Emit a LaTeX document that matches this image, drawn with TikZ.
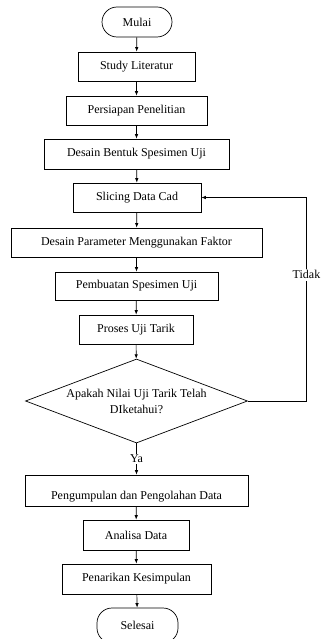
\documentclass[tikz,border=0pt]{standalone}
\usepackage{fontspec}
\setmainfont{Liberation Serif}
\usetikzlibrary{arrows.meta,shapes.geometric}

\begin{document}
\begin{tikzpicture}[x=1pt,y=-1pt,
  line width=0.7pt,
  >={Latex[length=4.5pt,width=3.5pt]},
  every node/.style={font=\fontsize{12}{16}\selectfont, inner sep=0pt},
  procbox/.style={draw, rectangle, minimum width=#1, minimum height=29pt},
  terminal/.style={draw, rectangle, rounded corners=15pt, minimum width=#1, minimum height=30pt},
  decision/.style={draw, diamond, minimum width=222pt, minimum height=84pt},
  onlinelabel/.style={fill=white, inner sep=1.5pt}
]
\useasboundingbox (0,0) rectangle (321,639);

% process chain
\node[terminal=70pt]   (mulai)   at (137,22)    {Mulai};
\node[procbox=117pt]   (study)   at (136.5,66.5) {Study Literatur};
\node[procbox=141pt]   (siap)    at (136.5,110.5) {Persiapan Penelitian};
\node[procbox=185pt, minimum height=30pt] (bentuk) at (136.5,154) {Desain Bentuk Spesimen Uji};
\node[procbox=128pt]   (slicing) at (137,197.5) {Slicing Data Cad};
\node[procbox=251pt]   (param)   at (136.5,242.5) {Desain Parameter Menggunakan Faktor};
\node[procbox=163pt, minimum height=28pt] (buat) at (136.5,286) {Pembuatan Spesimen Uji};
\node[procbox=114pt]   (proses)  at (136,329.5) {Proses Uji Tarik};
\node[decision, label={[align=center]center:Apakah Nilai Uji Tarik Telah\\DIketahui?}] (cek) at (136.5,401) {};
\node[procbox=223pt, minimum height=31pt, text height=20pt, text depth=3pt] (kumpul) at (136.5,490.5) {Pengumpulan dan Pengolahan Data};
\node[procbox=106pt, minimum height=30pt] (analisa) at (136,535) {Analisa Data};
\node[procbox=149pt, minimum height=30pt] (tarik)   at (136.5,579) {Penarikan Kesimpulan};
\node[terminal=81pt, minimum height=35pt] (selesai) at (137.5,625.5) {Selesai};

% loop-back corner
\coordinate (kanan) at (306.5,401);

% connectors
\draw[->] (mulai) -- (study);
\draw[->] (study) -- (siap);
\draw[->] (siap) -- (bentuk);
\draw[->] (bentuk) -- (slicing);
\draw[->] (slicing) -- (param);
\draw[->] (param) -- (buat);
\draw[->] (buat) -- (proses);
\draw[->] (proses) -- (cek);
\draw[->] (cek.south) -- node[onlinelabel] {Ya} (cek.south |- kumpul.north);
\draw[->] (cek.east) -- (kanan) -- node[onlinelabel, pos=0.62] {Tidak} (kanan |- slicing.east) -- (slicing.east);
\draw[->] (kumpul) -- (analisa);
\draw[->] (analisa) -- (tarik);
\draw[->] (tarik) -- (selesai);
\end{tikzpicture}
\end{document}
